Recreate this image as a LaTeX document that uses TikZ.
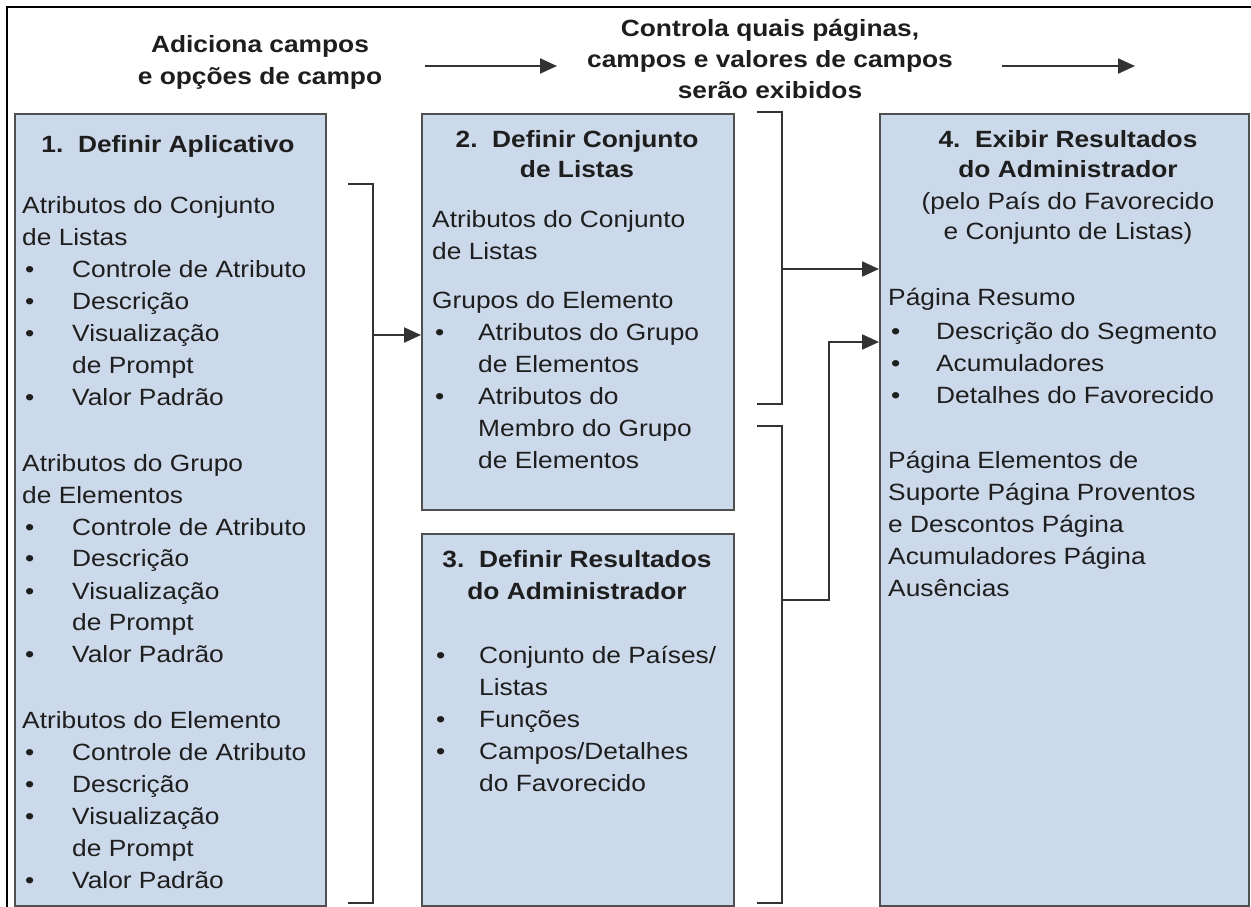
\documentclass[tikz,border=0pt]{standalone}
\usepackage{fontspec}
\setmainfont[FakeStretch=1.12]{Liberation Sans}
\usetikzlibrary{arrows.meta}
\definecolor{boxfill}{RGB}{204,217,234}
\definecolor{boxline}{RGB}{80,80,80}
\definecolor{conn}{RGB}{51,51,51}
\definecolor{txtc}{RGB}{30,30,30}
\newcommand{\myfont}{\fontsize{23.5}{32}\selectfont}
\newcommand{\titfont}{\fontsize{23.5}{31}\selectfont\bfseries}
\newcommand{\bitem}[1]{\makebox[#1pt][l]{\hspace{3pt}\textbullet}}
\newcommand{\cont}[1]{\hspace*{#1pt}}
\renewcommand{\arraystretch}{1}
\begin{document}
\begin{tikzpicture}[x=1pt,y=-1pt,
  box/.style={draw=boxline, line width=2pt, fill=boxfill, inner sep=0pt, anchor=north west},
  body/.style={inner sep=0pt, text=txtc, font=\myfont, anchor=base west},
  title/.style={inner sep=0pt, text=txtc, font=\titfont, anchor=base},
  conn/.style={draw=conn, line width=2.2pt},
  arr/.style={conn, -{Triangle[length=17pt,width=15pt]}},
  frame/.style={draw=black, line width=2.5pt}]
\useasboundingbox (0,0) rectangle (1251,907);
\fill[white] (0,0) rectangle (1251,907);
% outer frame
\draw[frame] (7,907) -- (7,7) -- (1251,7);

% boxes
\node[box, minimum width=311pt, minimum height=792pt] (b1) at (14,113) {};
\node[box, minimum width=312pt, minimum height=396pt] (b2) at (421,113) {};
\node[box, minimum width=312pt, minimum height=372pt] (b3) at (421,533) {};
\node[box, minimum width=369pt, minimum height=792pt] (b4) at (879,113) {};

% top labels
\node[title] (lab1) at (260,53) {\begin{tabular}[t]{@{}c@{}}Adiciona campos\\[1pt] e opções de campo\end{tabular}};
\node[title] (lab2) at (770,37) {\begin{tabular}[t]{@{}c@{}}Controla quais páginas,\\ campos e valores de campos\\ serão exibidos\end{tabular}};
\coordinate (ta1) at (425,66);
\coordinate (ta2) at (557,66);
\coordinate (tb1) at (1002,66);
\coordinate (tb2) at (1135,66);
\draw[arr] (ta1) -- (ta2);
\draw[arr] (tb1) -- (tb2);

% titles
\node[title] (t1) at (168,152) {1.\ \ Definir Aplicativo};
\node[title] (t2) at (577,147) {\begin{tabular}[t]{@{}c@{}}2.\ \ Definir Conjunto\\[-1pt] de Listas\end{tabular}};
\node[title] (t3) at (577,567) {\begin{tabular}[t]{@{}c@{}}3.\ \ Definir Resultados\\[1pt] do Administrador\end{tabular}};
\node[title] (t4) at (1068,147) {\begin{tabular}[t]{@{}c@{}}4.\ \ Exibir Resultados\\[-1pt] do Administrador\\[1pt] \mdseries (pelo País do Favorecido\\[-1pt] \mdseries e Conjunto de Listas)\end{tabular}};

% bodies
\node[body] (c1) at (22,213) {\begin{tabular}[t]{@{}l@{}}
Atributos do Conjunto\\
de Listas\\
\bitem{50}Controle de Atributo\\
\bitem{50}Descrição\\
\bitem{50}Visualização\\
\cont{50}de Prompt\\
\bitem{50}Valor Padrão\\[34pt]
Atributos do Grupo\\
de Elementos\\
\bitem{50}Controle de Atributo\\
\bitem{50}Descrição\\
\bitem{50}Visualização\\
\cont{50}de Prompt\\
\bitem{50}Valor Padrão\\[34pt]
Atributos do Elemento\\
\bitem{50}Controle de Atributo\\
\bitem{50}Descrição\\
\bitem{50}Visualização\\
\cont{50}de Prompt\\
\bitem{50}Valor Padrão
\end{tabular}};

\node[body] (c2) at (432,227) {\begin{tabular}[t]{@{}l@{}}
Atributos do Conjunto\\
de Listas\\[17pt]
Grupos do Elemento\\
\bitem{46}Atributos do Grupo\\
\cont{46}de Elementos\\
\bitem{46}Atributos do\\
\cont{46}Membro do Grupo\\
\cont{46}de Elementos
\end{tabular}};

\node[body] (c3) at (433,663) {\begin{tabular}[t]{@{}l@{}}
\bitem{46}Conjunto de Países/\\
\cont{46}Listas\\
\bitem{46}Funções\\
\bitem{46}Campos/Detalhes\\
\cont{46}do Favorecido
\end{tabular}};

\node[body] (c4) at (888,305) {\begin{tabular}[t]{@{}l@{}}
Página Resumo\\[2pt]
\bitem{48}Descrição do Segmento\\
\bitem{48}Acumuladores\\
\bitem{48}Detalhes do Favorecido\\[33pt]
Página Elementos de\\
Suporte Página Proventos\\
e Descontos Página\\
Acumuladores Página\\
Ausências
\end{tabular}};

% bracket 1 -> box 2
\coordinate (a1) at (348,184);
\coordinate (a2) at (373,184);
\coordinate (a3) at (373,903);
\coordinate (a4) at (348,903);
\coordinate (aj) at (373,335);
\draw[conn] (a1) -- (a2) -- (a3) -- (a4);
\draw[arr] (aj) -- (aj -| b2.west);

% bracket 2 -> box 4
\coordinate (p1) at (757,112);
\coordinate (p2) at (782,112);
\coordinate (p3) at (782,404);
\coordinate (p4) at (757,404);
\coordinate (pj) at (782,269);
\draw[conn] (p1) -- (p2) -- (p3) -- (p4);
\draw[arr] (pj) -- (pj -| b4.west);

% bracket 3 -> box 4
\coordinate (q1) at (757,426);
\coordinate (q2) at (782,426);
\coordinate (q3) at (782,903);
\coordinate (q4) at (757,903);
\coordinate (qj) at (782,600);
\coordinate (qk) at (829,600);
\coordinate (ql) at (829,342);
\draw[conn] (q1) -- (q2) -- (q3) -- (q4);
\draw[arr] (qj) -- (qk) -- (ql) -- (ql -| b4.west);
\end{tikzpicture}
\end{document}
